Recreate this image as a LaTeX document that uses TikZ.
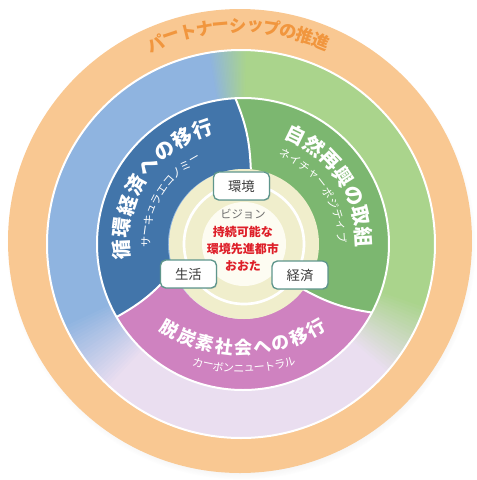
\documentclass[tikz,border=0pt]{standalone}
\usepackage{fontspec}
\setmainfont{Noto Sans CJK JP}
\usetikzlibrary{shadows}

\definecolor{ringorange}{RGB}{249,200,146}
\definecolor{partorange}{RGB}{241,150,62}
\definecolor{pblue}{RGB}{143,180,224}
\definecolor{pgreen}{RGB}{170,212,140}
\definecolor{plav}{RGB}{234,222,240}
\definecolor{dblue}{RGB}{66,117,170}
\definecolor{dgreen}{RGB}{124,183,112}
\definecolor{dpink}{RGB}{207,130,192}
\definecolor{cream}{RGB}{240,238,204}
\definecolor{corewhite}{RGB}{253,252,242}
\definecolor{boxline}{RGB}{95,150,140}
\definecolor{goalred}{RGB}{222,30,40}

\tikzset{
  parttext/.style={text=partorange, font=\bfseries\fontsize{13}{13}\selectfont, inner sep=0pt},
  ringtext/.style={text=white, font=\bfseries\fontsize{15}{15}\selectfont, inner sep=0pt},
  subtext/.style={text=white, font=\fontsize{8.3}{8.3}\selectfont, inner sep=0pt},
  edge/.style={draw=white, line width=1.5pt},
  labelbox/.style={draw=boxline, line width=1pt, fill=white, rounded corners=4pt,
    minimum width=42pt, minimum height=21pt, inner sep=0pt,
    font=\fontsize{10}{10}\selectfont, text={rgb,255:red,60;green,60;blue,60},
    drop shadow={opacity=0.2, shadow xshift=0.7pt, shadow yshift=-0.7pt}}
}

\begin{document}
\begin{tikzpicture}[x=0.75pt,y=0.75pt,yscale=-1,xscale=1]
\useasboundingbox (0,0) rectangle (477,480);

%Shape: Circle [outer ring]
\begin{scope}[shift={(240,241)}, yscale=-1]
\fill[ringorange, circular drop shadow={shadow scale=1.01, shadow xshift=1pt, shadow yshift=-3pt, opacity=0.35}] (0,0) circle (232);
\foreach \ch [count=\i from 0] in {パ,ー,ト,ナ,ー,シ,ッ,プ,の,推,進} {
  \pgfmathsetmacro\a{113-4.5*\i}
  \node[parttext, rotate=\a-90] (part\i) at (\a:215) {\ch};
}
\end{scope}

%Shape: Circle [middle ring]
\begin{scope}[shift={(241,244)}, yscale=-1]
\fill[pblue] (0,0) -- (94:194) arc[start angle=94, end angle=216, radius=194] -- cycle;
\fill[plav] (0,0) -- (216:194) arc[start angle=216, end angle=330, radius=194] -- cycle;
\fill[pgreen] (0,0) -- (330:194) arc[start angle=330, end angle=454, radius=194] -- cycle;
% soft blends between the colours
\foreach \i in {0,...,23} {
  \pgfmathsetmacro\a{88+0.5*\i}
  \pgfmathsetmacro\p{100-\i*100/23}
  \fill[pgreen!\p!pblue] (0,0) -- (\a:194) arc[start angle=\a, end angle=\a+0.8, radius=194] -- cycle;
}
\foreach \i in {0,...,23} {
  \pgfmathsetmacro\a{204+\i}
  \pgfmathsetmacro\p{100-\i*100/23}
  \fill[pblue!\p!plav] (0,0) -- (\a:194) arc[start angle=\a, end angle=\a+1.3, radius=194] -- cycle;
}
\foreach \i in {0,...,23} {
  \pgfmathsetmacro\a{318+\i}
  \pgfmathsetmacro\p{100-\i*100/23}
  \fill[plav!\p!pgreen] (0,0) -- (\a:194) arc[start angle=\a, end angle=\a+1.3, radius=194] -- cycle;
}
\draw[edge] (0,0) circle (194);
\end{scope}

%Shape: Ring sectors [inner ring]
\begin{scope}[shift={(243,244)}, yscale=-1]
\fill[dblue] (84:75) to[bend right=10] (93:146) arc[start angle=93, end angle=210, radius=146]
  to[bend right=10] (201:75) arc[start angle=201, end angle=84, radius=75] -- cycle;
\fill[dgreen] (323:75) to[bend right=10] (332:146) arc[start angle=332, end angle=453, radius=146]
  to[bend left=10] (84:75) arc[start angle=84, end angle=-37, radius=75] -- cycle;
\fill[dpink] (210:146) arc[start angle=210, end angle=332, radius=146]
  to[bend left=10] (323:75) arc[start angle=323, end angle=201, radius=75] to[bend left=10] (210:146) -- cycle;
\draw[edge] (84:75) to[bend right=10] (93:146);
\draw[edge] (210:146) to[bend right=10] (201:75);
\draw[edge] (323:75) to[bend right=10] (332:146);
\draw[edge] (0,0) circle (146);

% Text Node
\foreach \ch [count=\i from 0] in {循,環,経,済,へ,の,移,行} {
  \pgfmathsetmacro\a{182.7-10.5*\i}
  \node[ringtext, rotate=\a-90] (circ\i) at (\a:122) {\ch};
}
\foreach \ch [count=\i from 0] in {サ,ー,キ,ュ,ラ,エ,コ,ノ,ミ,ー} {
  \pgfmathsetmacro\a{179-6.6*\i}
  \node[subtext, rotate=\a-90] (circsub\i) at (\a:97) {\ch};
}
\foreach \ch [count=\i from 0] in {自,然,再,興,の,取,組} {
  \pgfmathsetmacro\a{64-10.1*\i}
  \node[ringtext, rotate=\a-90] (nat\i) at (\a:121) {\ch};
}
\foreach \ch [count=\i from 0] in {ネ,イ,チ,ャ,ー,ポ,ジ,テ,ィ,ブ} {
  \pgfmathsetmacro\a{65-6.8*\i}
  \node[subtext, rotate=\a-90] (natsub\i) at (\a:99) {\ch};
}
\end{scope}

\begin{scope}[shift={(243,200)}, yscale=-1]
\foreach \ch [count=\i from 0] in {脱,炭,素,社,会,へ,の,移,行} {
  \pgfmathsetmacro\a{240.5+7.4*\i}
  \node[ringtext, font=\bfseries\fontsize{13.5}{13.5}\selectfont, rotate=\a+90] (carb\i) at (\a:148) {\ch};
}
\foreach \ch [count=\i from 0] in {カ,ー,ボ,ン,ニ,ュ,ー,ト,ラ,ル} {
  \pgfmathsetmacro\a{254.6+3.5*\i}
  \node[subtext, rotate=\a+90] (carbsub\i) at (\a:169) {\ch};
}
\end{scope}

%Shape: Circle [vision core]
\begin{scope}[shift={(244,244)}, yscale=-1]
\fill[cream] (0,0) circle (75);
\draw[white, line width=2pt] (0,0) circle (60);
\fill[corewhite] (0,0) circle (42);
\end{scope}

% Text Node
\node[labelbox] (env) at (241.5,186) {環境};
\node[labelbox] (life) at (188.5,274) {生活};
\node[labelbox] (econ) at (300,275) {経済};
\node[inner sep=0pt, text={rgb,255:red,110;green,110;blue,110}, font=\fontsize{8.5}{8.5}\selectfont] (vision) at (243,214) {ビジョン};
\node[inner sep=0pt, align=center, text=goalred, font=\bfseries\fontsize{9}{12.75}\selectfont] (goal) at (243,249) {持続可能な\\環境先進都市\\おおた};

\end{tikzpicture}
\end{document}
